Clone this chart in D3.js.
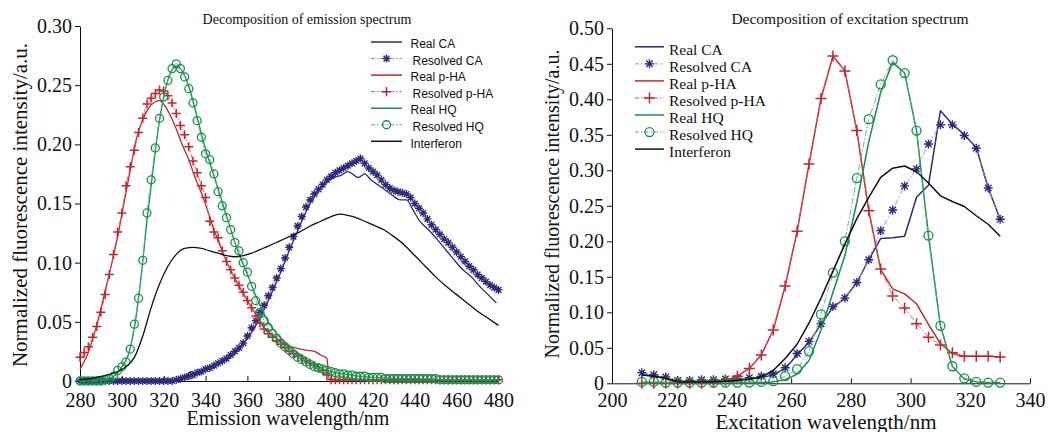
<!DOCTYPE html>
<html>
<head>
<meta charset="utf-8">
<script src="https://cdn.jsdelivr.net/npm/d3@7"></script>
<style>
body { margin: 0; background: #fff; }
svg { display: block; }
.serif { font-family: "Liberation Serif", "Times New Roman", serif; fill: #111; }
.sans { font-family: "Liberation Sans", Arial, sans-serif; fill: #111; }
</style>
</head>
<body>
<svg id="chart" width="1048" height="432"></svg>
<script>
// ---------- emission spectrum (left) ----------
const emTicksX = [280, 300, 320, 340, 360, 380, 400, 420, 440, 460, 480]
const emTicksY = [0, 0.05, 0.10, 0.15, 0.20, 0.25, 0.30]
// resolved series are sampled every 2 nm from 280 to 480
const emGrid = d3.range(280, 481, 2)

const emResolvedCA = [
	0, 0, 0, 0, 0, 0, 0, 0, 0, 0,
	0, 0, 0, 0, 0, 0, 0, 0, 0, 0,
	0, 0, 0, 0.001, 0.002, 0.003, 0.004, 0.005, 0.007, 0.008,
	0.010, 0.011, 0.013, 0.015, 0.017, 0.019, 0.022, 0.025, 0.028, 0.032,
	0.038, 0.045, 0.051, 0.058, 0.064, 0.072, 0.079, 0.087, 0.095, 0.104,
	0.113, 0.122, 0.131, 0.139, 0.147, 0.153, 0.158, 0.162, 0.166, 0.170,
	0.173, 0.176, 0.178, 0.180, 0.182, 0.184, 0.186, 0.188, 0.184, 0.180,
	0.177, 0.174, 0.170, 0.166, 0.163, 0.161, 0.160, 0.159, 0.158, 0.155,
	0.150, 0.146, 0.142, 0.137, 0.132, 0.128, 0.124, 0.120, 0.117, 0.113,
	0.109, 0.105, 0.101, 0.097, 0.094, 0.090, 0.087, 0.084, 0.081, 0.079,
	0.077
]
const emResolvedPHA = [
	0.020, 0.024, 0.029, 0.037, 0.046, 0.058, 0.073, 0.090, 0.107, 0.126,
	0.142, 0.165, 0.181, 0.195, 0.210, 0.222, 0.234, 0.239, 0.243, 0.246,
	0.245, 0.241, 0.235, 0.226, 0.216, 0.208, 0.198, 0.186, 0.176, 0.165,
	0.155, 0.135, 0.126, 0.121, 0.110, 0.101, 0.094, 0.087, 0.081, 0.075,
	0.068, 0.062, 0.055, 0.049, 0.044, 0.040, 0.037, 0.034, 0.031, 0.028,
	0.025, 0.023, 0.021, 0.019, 0.017, 0.015, 0.013, 0.011, 0.009, 0.005,
	0.001, 0.001, 0.001, 0.001, 0.001, 0.001, 0.001, 0.001, 0.001, 0.001,
	0.001, 0.001, 0.001, 0.001, 0.001, 0.001, 0.001, 0.001, 0.001, 0.001,
	0.001, 0.001, 0.001, 0.001, 0.001, 0.001, 0.001, 0.001, 0.001, 0.001,
	0.001, 0.001, 0.001, 0.001, 0.001, 0.001, 0.001, 0.001, 0.001, 0.001,
	0.001
]
const emResolvedHQ = [
	0, 0, 0, 0, 0, 0, 0.001, 0.002, 0.004, 0.009,
	0.012, 0.016, 0.027, 0.048, 0.070, 0.102, 0.142, 0.170, 0.197, 0.222,
	0.240, 0.254, 0.264, 0.268, 0.264, 0.257, 0.247, 0.235, 0.220, 0.206,
	0.192, 0.187, 0.175, 0.160, 0.148, 0.138, 0.128, 0.117, 0.110, 0.100,
	0.092, 0.080, 0.068, 0.058, 0.051, 0.045, 0.040, 0.036, 0.032, 0.029,
	0.026, 0.023, 0.020, 0.018, 0.016, 0.014, 0.012, 0.011, 0.010, 0.009,
	0.008, 0.007, 0.006, 0.006, 0.005, 0.005, 0.004, 0.004, 0.004, 0.003,
	0.003, 0.003, 0.003, 0.002, 0.002, 0.002, 0.002, 0.002, 0.002, 0.002,
	0.002, 0.002, 0.002, 0.002, 0.002, 0.002, 0.001, 0.001, 0.001, 0.001,
	0.001, 0.001, 0.001, 0.001, 0.001, 0.001, 0.001, 0.001, 0.001, 0.001,
	0.001
]
// measured curves, [wavelength, intensity]
const emRealCA = [[280, 0], [300, 0], [325, 0], [330, 0.003], [333, 0.008], [336, 0.006], [340, 0.009],
	[345, 0.013], [350, 0.018], [355, 0.025], [360, 0.036], [365, 0.050], [370, 0.068], [375, 0.088],
	[380, 0.110], [385, 0.131], [390, 0.150], [395, 0.163], [400, 0.171], [405, 0.174], [408, 0.177],
	[413, 0.172], [416, 0.175], [419, 0.170], [423, 0.165], [427, 0.160], [430, 0.156], [433, 0.153],
	[436, 0.153], [439, 0.145], [442, 0.136], [447, 0.127], [452, 0.117], [458, 0.104], [463, 0.094],
	[467, 0.088], [471, 0.080], [475, 0.073], [479, 0.066]]
const emRealPHA = [[280, 0.010], [283, 0.020], [286, 0.035], [289, 0.054], [292, 0.076], [295, 0.098],
	[298, 0.122], [301, 0.150], [304, 0.178], [307, 0.205], [310, 0.221], [313, 0.231], [316, 0.236],
	[318, 0.237], [320, 0.234], [323, 0.225], [326, 0.213], [329, 0.199], [332, 0.187], [335, 0.172],
	[338, 0.159], [341, 0.144], [344, 0.128], [347, 0.114], [350, 0.101], [353, 0.090], [356, 0.080],
	[359, 0.071], [362, 0.062], [365, 0.054], [368, 0.045], [371, 0.040], [374, 0.036], [377, 0.032],
	[383, 0.028], [388, 0.026], [392, 0.025], [395, 0.022], [398, 0.019], [399, 0.002], [410, 0.001],
	[440, 0.001], [480, 0.001]]
const emRealHQ = [[280, 0], [290, 0.001], [295, 0.003], [298, 0.007], [300, 0.012], [303, 0.022],
	[306, 0.045], [309, 0.085], [312, 0.135], [315, 0.180], [318, 0.220], [321, 0.248], [324, 0.263],
	[326, 0.266], [328, 0.264], [331, 0.254], [334, 0.237], [337, 0.216], [340, 0.196], [345, 0.168],
	[350, 0.140], [355, 0.112], [360, 0.090], [365, 0.068], [370, 0.050], [375, 0.038], [380, 0.029],
	[385, 0.022], [390, 0.016], [395, 0.011], [400, 0.008], [410, 0.005], [420, 0.003], [440, 0.002],
	[460, 0.001], [480, 0.001]]
const emInterferon = [[280, 0.001], [285, 0.002], [290, 0.004], [295, 0.006], [298, 0.008], [302, 0.012],
	[306, 0.020], [310, 0.038], [314, 0.062], [318, 0.082], [322, 0.097], [326, 0.107], [330, 0.112],
	[334, 0.113], [338, 0.112], [342, 0.110], [346, 0.108], [350, 0.106], [354, 0.105], [358, 0.106],
	[362, 0.108], [366, 0.111], [370, 0.114], [375, 0.118], [380, 0.122], [385, 0.126], [390, 0.131],
	[395, 0.135], [400, 0.139], [404, 0.141], [408, 0.140], [412, 0.138], [416, 0.135], [420, 0.132],
	[425, 0.128], [430, 0.122], [435, 0.115], [440, 0.106], [445, 0.097], [450, 0.088], [455, 0.080],
	[460, 0.073], [465, 0.066], [470, 0.059], [475, 0.053], [480, 0.047]]

// ---------- excitation spectrum (right) ----------
const exTicksX = [200, 220, 240, 260, 280, 300, 320, 340]
const exTicksY = [0, 0.05, 0.10, 0.15, 0.20, 0.25, 0.30, 0.35, 0.40, 0.45, 0.50]
const exGrid = [210, 214, 218, 222, 226, 230, 234, 238, 242, 246, 250, 254, 258, 262, 266, 270,
	274, 278, 282, 286, 290, 294, 298, 302, 306, 310, 314, 318, 322, 326, 330]

const exRealCA = [0.012, 0.010, 0.007, 0.003, 0.003, 0.003, 0.004, 0.004, 0.005, 0.006,
	0.008, 0.012, 0.021, 0.040, 0.058, 0.083, 0.107, 0.120, 0.142, 0.174,
	0.204, 0.205, 0.207, 0.262, 0.279, 0.384, 0.365, 0.350, 0.332, 0.275, 0.231]
const exResolvedCA = [0.015, 0.012, 0.009, 0.004, 0.004, 0.005, 0.005, 0.006, 0.007, 0.008,
	0.010, 0.013, 0.022, 0.042, 0.059, 0.084, 0.108, 0.120, 0.142, 0.174,
	0.215, 0.244, 0.278, 0.302, 0.337, 0.364, 0.364, 0.349, 0.331, 0.275, 0.231]
const exRealPHA = [0, 0, 0, 0, 0, 0, 0.001, 0.004, 0.010, 0.021,
	0.040, 0.075, 0.137, 0.214, 0.309, 0.401, 0.461, 0.440, 0.356, 0.243,
	0.160, 0.133, 0.126, 0.112, 0.083, 0.056, 0.042, 0.038, 0.038, 0.038, 0.037]
const exResolvedPHA = [0, 0, 0, 0, 0, 0, 0.001, 0.004, 0.010, 0.021,
	0.040, 0.075, 0.137, 0.214, 0.309, 0.401, 0.461, 0.440, 0.356, 0.243,
	0.161, 0.123, 0.106, 0.084, 0.065, 0.054, 0.043, 0.038, 0.038, 0.038, 0.037]
const exRealHQ = [0.001, 0.001, 0.001, 0.001, 0.001, 0.001, 0.001, 0.001, 0.001, 0.001,
	0.001, 0.002, 0.005, 0.013, 0.032, 0.075, 0.128, 0.180, 0.255, 0.340,
	0.410, 0.452, 0.437, 0.356, 0.208, 0.081, 0.024, 0.006, 0.002, 0.001, 0.001]
const exResolvedHQ = [0.002, 0.002, 0.001, 0.001, 0.001, 0.001, 0.001, 0.001, 0.001, 0.001,
	0.002, 0.003, 0.010, 0.020, 0.045, 0.097, 0.156, 0.200, 0.289, 0.372,
	0.421, 0.455, 0.437, 0.356, 0.208, 0.081, 0.024, 0.007, 0.002, 0.001, 0.001]
const exInterferon = [0.012, 0.010, 0.007, 0.002, 0.002, 0.002, 0.002, 0.003, 0.004, 0.006,
	0.009, 0.018, 0.035, 0.055, 0.085, 0.120, 0.158, 0.196, 0.232, 0.262,
	0.290, 0.303, 0.306, 0.298, 0.282, 0.264, 0.256, 0.249, 0.236, 0.224, 0.207]

const legendNames = ['Real CA', 'Resolved CA', 'Real p-HA', 'Resolved p-HA', 'Real HQ', 'Resolved HQ', 'Interferon']

const NAVY = '#2d2b7d', NAVY_L = '#8e8dc6'
const RED = '#c4262c', RED_L = '#d9585c'
const GREEN = '#14924a', GREEN_L = '#4fb378'
const BLACK = '#111'
const SERIF = '"Liberation Serif", "Times New Roman", Times, serif'

const svg = d3.select('#chart')
svg.append('rect').attr('width', 1048).attr('height', 432).attr('fill', '#fff')

const tickFmt = d => d === 0 ? '0' : d3.format('.2f')(d)

// marker shapes
function starPath(s) {
	let k = s * 0.72
	return `M${-s},0L${s},0M0,${-s}L0,${s}M${-k},${-k}L${k},${k}M${-k},${k}L${k},${-k}`
}
function plusPath(s) {
	return `M${-s},0L${s},0M0,${-s}L0,${s}`
}

function drawMarkers(g, pts, x, y, kind, color, size) {
	if (kind === 'circle') {
		g.selectAll(null).data(pts).enter().append('circle')
			.attr('cx', d => x(d[0])).attr('cy', d => y(d[1]))
			.attr('r', size).attr('fill', 'none')
			.attr('stroke', color).attr('stroke-width', 1.3)
	} else {
		let p = kind === 'star' ? starPath(size) : plusPath(size)
		g.selectAll(null).data(pts).enter().append('path')
			.attr('d', p)
			.attr('transform', d => `translate(${x(d[0])},${y(d[1])})`)
			.attr('fill', 'none').attr('stroke', color)
			.attr('stroke-width', kind === 'star' ? 1.4 : 1.5)
	}
}

function styleAxis(a) {
	a.attr('font-family', SERIF).attr('font-size', 20)
	a.select('.domain').attr('stroke', BLACK)
	a.selectAll('.tick line').attr('stroke', BLACK)
	a.selectAll('.tick text').attr('fill', BLACK)
		.style('font-family', SERIF).style('font-size', '20px')
}

function drawPanel(cfg) {
	let g = svg.append('g')
	let x = cfg.x, y = cfg.y

	let xAxis = d3.axisBottom(x).tickValues(cfg.ticksX).tickSizeInner(-5).tickSizeOuter(0)
		.tickPadding(cfg.xPad)
	g.append('g').attr('transform', `translate(0,${y.range()[0]})`).call(xAxis).call(styleAxis)

	let yAxis = d3.axisLeft(y).tickValues(cfg.ticksY).tickSizeInner(5).tickSizeOuter(0)
		.tickPadding(3).tickFormat(tickFmt)
	g.append('g').attr('transform', `translate(${x.range()[0]},0)`).call(yAxis).call(styleAxis)

	let line = d3.line().x(d => x(d[0])).y(d => y(d[1]))
	if (cfg.smooth) line.curve(d3.curveMonotoneX)

	cfg.series.forEach(s => {
		if (s.dash) {
			g.append('path').datum(s.pts).attr('d', line)
				.attr('fill', 'none').attr('stroke', s.lineColor)
				.attr('stroke-width', 0.9).attr('stroke-dasharray', '6,2,1.5,2')
			drawMarkers(g, s.pts, x, y, s.marker, s.color, s.size)
		} else {
			g.append('path').datum(s.pts).attr('d', line)
				.attr('fill', 'none').attr('stroke', s.color)
				.attr('stroke-width', cfg.lineW).attr('stroke-linejoin', 'round')
		}
	})

	// titles
	g.append('text').attr('class', 'serif')
		.attr('x', cfg.title[1]).attr('y', cfg.title[2])
		.attr('text-anchor', 'middle').style('font-size', cfg.title[3] + 'px')
		.text(cfg.title[0])
	g.append('text').attr('class', 'serif')
		.attr('x', cfg.xTitle[1]).attr('y', cfg.xTitle[2])
		.attr('text-anchor', 'middle').style('font-size', cfg.xTitle[3] + 'px')
		.text(cfg.xTitle[0])
	g.append('text').attr('class', 'serif')
		.attr('transform', `translate(${cfg.yTitle[1]},${cfg.yTitle[2]}) rotate(-90)`)
		.attr('text-anchor', 'middle').style('font-size', cfg.yTitle[3] + 'px')
		.text(cfg.yTitle[0])

	// legend
	let lg = cfg.legend
	let legend = g.append('g')
	cfg.series.forEach((s, i) => {
		let cy = lg.y0 + i * lg.step
		let ly = cy - lg.lineUp
		let ln = legend.append('line')
			.attr('x1', lg.x1).attr('x2', lg.x2).attr('y1', ly).attr('y2', ly)
		if (s.dash) {
			ln.attr('stroke', s.lineColor).attr('stroke-width', 1).attr('stroke-dasharray', '4,2,1.5,2')
			drawMarkers(legend, [[(lg.x1 + lg.x2) / 2, ly]], d => d, d => d, s.marker, s.color, s.size)
		} else {
			ln.attr('stroke', s.color).attr('stroke-width', 1.5)
		}
		legend.append('text').attr('class', lg.cls)
			.attr('x', s.dash ? lg.tx + lg.shift : lg.tx).attr('y', cy).attr('dy', '0.35em')
			.style('font-size', lg.size + 'px')
			.text(legendNames[i])
	})
}

const zipGrid = (grid, vals) => grid.map((g, i) => [g, vals[i]])

// left panel
drawPanel({
	x: d3.scaleLinear().domain([280, 480]).range([80, 498.5]),
	y: d3.scaleLinear().domain([0, 0.30]).range([381, 26]),
	ticksX: emTicksX, ticksY: emTicksY, xPad: 12,
	smooth: true, lineW: 1.3,
	series: [
		{ pts: emRealCA, color: NAVY },
		{ pts: zipGrid(emGrid, emResolvedCA), color: NAVY, lineColor: NAVY_L, dash: true, marker: 'star', size: 4 },
		{ pts: emRealPHA, color: RED },
		{ pts: zipGrid(emGrid, emResolvedPHA), color: RED, lineColor: RED_L, dash: true, marker: 'plus', size: 4.5 },
		{ pts: emRealHQ, color: GREEN },
		{ pts: zipGrid(emGrid, emResolvedHQ), color: GREEN, lineColor: GREEN_L, dash: true, marker: 'circle', size: 4 },
		{ pts: emInterferon, color: BLACK }
	],
	title: ['Decomposition of emission spectrum', 307, 24, 14],
	xTitle: ['Emission wavelength/nm', 288, 425, 20],
	yTitle: ['Normalized fluorescence intensity/a.u.', 27, 205, 21],
	legend: { x1: 371, x2: 402, tx: 410.5, shift: 2, y0: 44, step: 16.55, lineUp: 2, size: 12, cls: 'sans' }
})

// right panel
drawPanel({
	x: d3.scaleLinear().domain([200, 340]).range([612, 1030]),
	y: d3.scaleLinear().domain([0, 0.50]).range([383.3, 28.3]),
	ticksX: exTicksX, ticksY: exTicksY, xPad: 9.5,
	smooth: false, lineW: 1.5,
	series: [
		{ pts: zipGrid(exGrid, exRealCA), color: NAVY },
		{ pts: zipGrid(exGrid, exResolvedCA), color: NAVY, lineColor: NAVY_L, dash: true, marker: 'star', size: 4.5 },
		{ pts: zipGrid(exGrid, exRealPHA), color: RED },
		{ pts: zipGrid(exGrid, exResolvedPHA), color: RED, lineColor: RED_L, dash: true, marker: 'plus', size: 5.5 },
		{ pts: zipGrid(exGrid, exRealHQ), color: GREEN },
		{ pts: zipGrid(exGrid, exResolvedHQ), color: GREEN, lineColor: GREEN_L, dash: true, marker: 'circle', size: 4.5 },
		{ pts: zipGrid(exGrid, exInterferon), color: BLACK }
	],
	title: ['Decomposition of excitation spectrum', 850, 24, 15.5],
	xTitle: ['Excitation wavelength/nm', 826, 429, 21],
	yTitle: ['Normalized fluorescence intensity/a.u.', 559, 204, 20],
	legend: { x1: 635, x2: 664, tx: 669, shift: 0, y0: 49.3, step: 17.05, lineUp: 2.5, size: 15.5, cls: 'serif' }
})
</script>
</body>
</html>
